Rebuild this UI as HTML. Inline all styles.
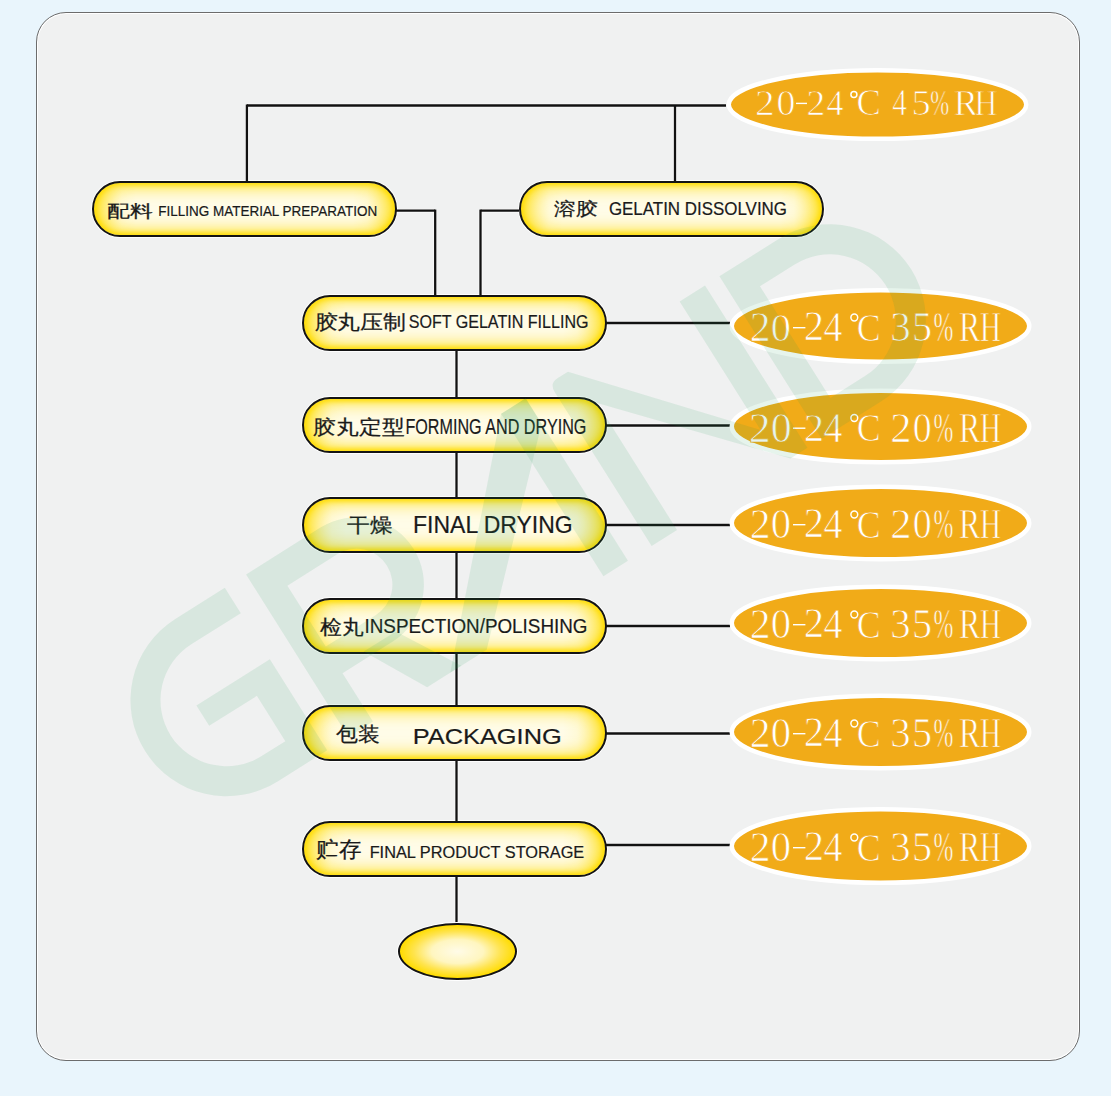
<!DOCTYPE html>
<html><head><meta charset="utf-8"><style>
html,body{margin:0;padding:0}
body{width:1111px;height:1096px;background:#e9f5fc;position:relative;overflow:hidden;font-family:"Liberation Sans",sans-serif}
.panel{position:absolute;left:35.6px;top:11.9px;width:1044.3px;height:1049px;box-sizing:border-box;border:1.7px solid #6c6c6c;border-radius:30px;background:#f0f1f1;box-shadow:inset 0 0 0 1px #fff}
svg{position:absolute;left:0;top:0}
.halo{position:absolute;box-sizing:border-box;border-radius:31px;background:#fff;opacity:.9}
.cap{position:absolute;box-sizing:border-box;border:2.5px solid #141414;border-radius:30px;background:linear-gradient(to right,rgba(255,220,0,.5) 0,rgba(255,236,120,.15) 28px,rgba(255,255,255,0) 42px,rgba(255,255,255,0) calc(100% - 42px),rgba(255,236,120,.15) calc(100% - 28px),rgba(255,220,0,.5) 100%),#fffce8;box-shadow:inset 0 0 5px 2px #ffdc00, inset 0 0 16px 5px rgba(255,220,0,.75)}
.bot{position:absolute;left:398.3px;top:922.5px;width:119px;height:57.3px;box-sizing:border-box;border:2.5px solid #141414;border-radius:50%;background:radial-gradient(ellipse closest-side at 50% 50%,#fffbe8 0%,#fff6c0 45%,#ffe450 75%,#ffdc00 100%);box-shadow:0 0 0 1px #fff}
.en{font-family:"Liberation Sans",sans-serif;fill:#1a1a1a;stroke:#1a1a1a;stroke-width:0.2px}
.cjk{font-family:"Liberation Sans",sans-serif;fill:#1a1a1a;stroke:#1a1a1a;stroke-width:0.25px}
.el{font-family:"Liberation Serif",serif;fill:#fff;stroke:#f1ab18;stroke-width:0.75px}
</style></head><body>
<div class="panel"></div>
<div class="halo" style="left:90.8px;top:179.8px;width:307.4px;height:58.4px"></div><div class="halo" style="left:517.8px;top:179.8px;width:307.4px;height:58.4px"></div><div class="halo" style="left:300.8px;top:293.8px;width:307.4px;height:58.4px"></div><div class="halo" style="left:300.8px;top:395.8px;width:307.4px;height:58.4px"></div><div class="halo" style="left:300.8px;top:495.8px;width:307.4px;height:58.4px"></div><div class="halo" style="left:300.8px;top:596.8px;width:307.4px;height:58.4px"></div><div class="halo" style="left:300.8px;top:703.8px;width:307.4px;height:58.4px"></div><div class="halo" style="left:300.8px;top:819.8px;width:307.4px;height:58.4px"></div>
<svg width="1111" height="1096" viewBox="0 0 1111 1096">
<g stroke="#fff" stroke-width="4" opacity="0.6"><line x1="246.9" y1="105.5" x2="726" y2="105.5"/>
<line x1="246.9" y1="104.5" x2="246.9" y2="182"/>
<line x1="675" y1="105.5" x2="675" y2="182"/>
<line x1="396" y1="210.7" x2="435.2" y2="210.7"/>
<line x1="435.2" y1="209.6" x2="435.2" y2="296"/>
<line x1="519" y1="210.7" x2="480.5" y2="210.7"/>
<line x1="480.5" y1="209.6" x2="480.5" y2="296"/>
<line x1="456.5" y1="351" x2="456.5" y2="398"/>
<line x1="456.5" y1="453" x2="456.5" y2="498"/>
<line x1="456.5" y1="553" x2="456.5" y2="599"/>
<line x1="456.5" y1="654" x2="456.5" y2="706"/>
<line x1="456.5" y1="761" x2="456.5" y2="822"/>
<line x1="456.5" y1="877" x2="456.5" y2="923"/>
<line x1="606" y1="323" x2="730" y2="323"/>
<line x1="606" y1="425.5" x2="730" y2="425.5"/>
<line x1="606" y1="525" x2="730" y2="525"/>
<line x1="606" y1="626" x2="730" y2="626"/>
<line x1="606" y1="733.5" x2="730" y2="733.5"/>
<line x1="606" y1="845" x2="730" y2="845"/></g>
<g stroke="#111" stroke-width="2.3"><line x1="246.9" y1="105.5" x2="726" y2="105.5"/>
<line x1="246.9" y1="104.5" x2="246.9" y2="182"/>
<line x1="675" y1="105.5" x2="675" y2="182"/>
<line x1="396" y1="210.7" x2="435.2" y2="210.7"/>
<line x1="435.2" y1="209.6" x2="435.2" y2="296"/>
<line x1="519" y1="210.7" x2="480.5" y2="210.7"/>
<line x1="480.5" y1="209.6" x2="480.5" y2="296"/>
<line x1="456.5" y1="351" x2="456.5" y2="398"/>
<line x1="456.5" y1="453" x2="456.5" y2="498"/>
<line x1="456.5" y1="553" x2="456.5" y2="599"/>
<line x1="456.5" y1="654" x2="456.5" y2="706"/>
<line x1="456.5" y1="761" x2="456.5" y2="822"/>
<line x1="456.5" y1="877" x2="456.5" y2="923"/>
<line x1="606" y1="323" x2="730" y2="323"/>
<line x1="606" y1="425.5" x2="730" y2="425.5"/>
<line x1="606" y1="525" x2="730" y2="525"/>
<line x1="606" y1="626" x2="730" y2="626"/>
<line x1="606" y1="733.5" x2="730" y2="733.5"/>
<line x1="606" y1="845" x2="730" y2="845"/></g>
</svg>
<div class="cap" style="left:92px;top:181px;width:305px;height:56px"></div><div class="cap" style="left:519px;top:181px;width:305px;height:56px"></div><div class="cap" style="left:302px;top:295px;width:305px;height:56px"></div><div class="cap" style="left:302px;top:397px;width:305px;height:56px"></div><div class="cap" style="left:302px;top:497px;width:305px;height:56px"></div><div class="cap" style="left:302px;top:598px;width:305px;height:56px"></div><div class="cap" style="left:302px;top:705px;width:305px;height:56px"></div><div class="cap" style="left:302px;top:821px;width:305px;height:56px"></div>
<div class="bot"></div>
<svg width="1111" height="1096" viewBox="0 0 1111 1096">
<ellipse cx="877.5" cy="104.6" rx="148.75" ry="34.25" fill="#f1ab18" stroke="#fff" stroke-width="4.5"/><text x="755.04" y="115.00" font-size="35.75" textLength="19.65" lengthAdjust="spacingAndGlyphs" class="el">2</text>
<text x="776.40" y="115.00" font-size="35.75" textLength="18.93" lengthAdjust="spacingAndGlyphs" class="el">0</text>
<rect x="796.0" y="102.7" width="11.0" height="1.4" fill="#fff"/>
<text x="806.40" y="115.00" font-size="36.58" textLength="18.80" lengthAdjust="spacingAndGlyphs" class="el">2</text>
<text x="826.48" y="115.00" font-size="35.95" textLength="17.02" lengthAdjust="spacingAndGlyphs" class="el">4</text>
<circle cx="853.9" cy="94.4" r="3.0" fill="none" stroke="#fff" stroke-width="1.5"/>
<text x="856.40" y="115.00" font-size="37.10" textLength="24.35" lengthAdjust="spacingAndGlyphs" class="el">C</text>
<text x="892.20" y="115.00" font-size="36.98" textLength="14.60" lengthAdjust="spacingAndGlyphs" class="el">4</text>
<text x="911.60" y="115.00" font-size="35.75" textLength="19.18" lengthAdjust="spacingAndGlyphs" class="el">5</text>
<text x="930.20" y="115.00" font-size="36.43" textLength="18.88" lengthAdjust="spacingAndGlyphs" class="el">%</text>
<text x="953.80" y="115.00" font-size="35.75" textLength="24.23" lengthAdjust="spacingAndGlyphs" class="el">R</text>
<text x="974.60" y="115.00" font-size="35.75" textLength="22.73" lengthAdjust="spacingAndGlyphs" class="el">H</text><ellipse cx="880.5" cy="326" rx="148.75" ry="35.75" fill="#f1ab18" stroke="#fff" stroke-width="4.5"/><text x="749.68" y="340.64" font-size="42.10" textLength="20.84" lengthAdjust="spacingAndGlyphs" class="el">2</text>
<text x="770.68" y="340.64" font-size="40.68" textLength="20.19" lengthAdjust="spacingAndGlyphs" class="el">0</text>
<rect x="793.0" y="327.0" width="12.4" height="1.4" fill="#fff"/>
<text x="803.64" y="340.48" font-size="42.02" textLength="20.34" lengthAdjust="spacingAndGlyphs" class="el">2</text>
<text x="823.48" y="340.64" font-size="41.86" textLength="18.89" lengthAdjust="spacingAndGlyphs" class="el">4</text>
<circle cx="854.3" cy="317.5" r="3.4" fill="none" stroke="#fff" stroke-width="1.5"/>
<text x="856.82" y="340.64" font-size="40.29" textLength="23.86" lengthAdjust="spacingAndGlyphs" class="el">C</text>
<text x="890.32" y="340.64" font-size="41.86" textLength="20.48" lengthAdjust="spacingAndGlyphs" class="el">3</text>
<text x="912.06" y="340.64" font-size="42.04" textLength="20.04" lengthAdjust="spacingAndGlyphs" class="el">5</text>
<text x="933.48" y="340.64" font-size="41.20" textLength="19.85" lengthAdjust="spacingAndGlyphs" class="el">%</text>
<text x="958.94" y="340.64" font-size="41.86" textLength="21.13" lengthAdjust="spacingAndGlyphs" class="el">R</text>
<text x="980.12" y="340.64" font-size="41.86" textLength="20.90" lengthAdjust="spacingAndGlyphs" class="el">H</text><ellipse cx="880.5" cy="426.5" rx="148.75" ry="35.75" fill="#f1ab18" stroke="#fff" stroke-width="4.5"/><text x="748.88" y="441.54" font-size="42.10" textLength="21.95" lengthAdjust="spacingAndGlyphs" class="el">2</text>
<text x="770.68" y="441.54" font-size="42.17" textLength="20.98" lengthAdjust="spacingAndGlyphs" class="el">0</text>
<rect x="793.0" y="427.5" width="12.4" height="1.4" fill="#fff"/>
<text x="803.64" y="440.98" font-size="41.01" textLength="20.34" lengthAdjust="spacingAndGlyphs" class="el">2</text>
<text x="823.48" y="441.54" font-size="41.98" textLength="18.89" lengthAdjust="spacingAndGlyphs" class="el">4</text>
<circle cx="854.3" cy="418.0" r="3.4" fill="none" stroke="#fff" stroke-width="1.5"/>
<text x="856.82" y="441.14" font-size="40.17" textLength="23.86" lengthAdjust="spacingAndGlyphs" class="el">C</text>
<text x="890.32" y="441.54" font-size="41.86" textLength="21.33" lengthAdjust="spacingAndGlyphs" class="el">2</text>
<text x="912.86" y="441.54" font-size="41.86" textLength="18.93" lengthAdjust="spacingAndGlyphs" class="el">0</text>
<text x="933.48" y="441.54" font-size="41.20" textLength="19.85" lengthAdjust="spacingAndGlyphs" class="el">%</text>
<text x="958.94" y="441.54" font-size="41.86" textLength="21.13" lengthAdjust="spacingAndGlyphs" class="el">R</text>
<text x="980.12" y="441.54" font-size="41.86" textLength="20.90" lengthAdjust="spacingAndGlyphs" class="el">H</text><ellipse cx="880.5" cy="523" rx="148.75" ry="36.25" fill="#f1ab18" stroke="#fff" stroke-width="4.5"/><text x="749.68" y="537.64" font-size="41.86" textLength="20.84" lengthAdjust="spacingAndGlyphs" class="el">2</text>
<text x="770.68" y="537.64" font-size="41.86" textLength="20.27" lengthAdjust="spacingAndGlyphs" class="el">0</text>
<rect x="793.0" y="524.0" width="12.4" height="1.4" fill="#fff"/>
<text x="803.64" y="537.48" font-size="42.02" textLength="20.34" lengthAdjust="spacingAndGlyphs" class="el">2</text>
<text x="823.48" y="537.64" font-size="41.86" textLength="18.89" lengthAdjust="spacingAndGlyphs" class="el">4</text>
<circle cx="854.3" cy="514.5" r="3.4" fill="none" stroke="#fff" stroke-width="1.5"/>
<text x="856.82" y="537.64" font-size="40.29" textLength="23.86" lengthAdjust="spacingAndGlyphs" class="el">C</text>
<text x="890.32" y="537.64" font-size="41.86" textLength="21.33" lengthAdjust="spacingAndGlyphs" class="el">2</text>
<text x="912.86" y="537.64" font-size="41.86" textLength="18.93" lengthAdjust="spacingAndGlyphs" class="el">0</text>
<text x="933.48" y="537.64" font-size="41.20" textLength="19.85" lengthAdjust="spacingAndGlyphs" class="el">%</text>
<text x="958.94" y="537.64" font-size="41.86" textLength="21.13" lengthAdjust="spacingAndGlyphs" class="el">R</text>
<text x="980.12" y="537.64" font-size="41.86" textLength="20.90" lengthAdjust="spacingAndGlyphs" class="el">H</text><ellipse cx="880.5" cy="623" rx="148.75" ry="36.25" fill="#f1ab18" stroke="#fff" stroke-width="4.5"/><text x="749.68" y="637.64" font-size="41.86" textLength="20.84" lengthAdjust="spacingAndGlyphs" class="el">2</text>
<text x="770.68" y="637.64" font-size="41.86" textLength="20.27" lengthAdjust="spacingAndGlyphs" class="el">0</text>
<rect x="793.0" y="624.0" width="12.4" height="1.4" fill="#fff"/>
<text x="803.64" y="637.48" font-size="42.02" textLength="20.34" lengthAdjust="spacingAndGlyphs" class="el">2</text>
<text x="823.48" y="637.64" font-size="41.86" textLength="18.89" lengthAdjust="spacingAndGlyphs" class="el">4</text>
<circle cx="854.3" cy="614.5" r="3.4" fill="none" stroke="#fff" stroke-width="1.5"/>
<text x="856.82" y="637.64" font-size="40.29" textLength="23.86" lengthAdjust="spacingAndGlyphs" class="el">C</text>
<text x="890.32" y="637.64" font-size="41.86" textLength="20.40" lengthAdjust="spacingAndGlyphs" class="el">3</text>
<text x="912.06" y="637.64" font-size="41.86" textLength="20.04" lengthAdjust="spacingAndGlyphs" class="el">5</text>
<text x="933.48" y="637.64" font-size="41.20" textLength="19.85" lengthAdjust="spacingAndGlyphs" class="el">%</text>
<text x="958.94" y="637.64" font-size="41.86" textLength="21.13" lengthAdjust="spacingAndGlyphs" class="el">R</text>
<text x="980.12" y="637.64" font-size="41.86" textLength="20.90" lengthAdjust="spacingAndGlyphs" class="el">H</text><ellipse cx="880.5" cy="732" rx="148.75" ry="36.25" fill="#f1ab18" stroke="#fff" stroke-width="4.5"/><text x="749.68" y="746.64" font-size="41.86" textLength="20.84" lengthAdjust="spacingAndGlyphs" class="el">2</text>
<text x="770.68" y="746.64" font-size="41.86" textLength="20.27" lengthAdjust="spacingAndGlyphs" class="el">0</text>
<rect x="793.0" y="733.0" width="12.4" height="1.4" fill="#fff"/>
<text x="803.64" y="746.48" font-size="42.02" textLength="20.34" lengthAdjust="spacingAndGlyphs" class="el">2</text>
<text x="823.48" y="746.64" font-size="41.86" textLength="18.89" lengthAdjust="spacingAndGlyphs" class="el">4</text>
<circle cx="854.3" cy="723.5" r="3.4" fill="none" stroke="#fff" stroke-width="1.5"/>
<text x="856.82" y="746.64" font-size="40.29" textLength="23.86" lengthAdjust="spacingAndGlyphs" class="el">C</text>
<text x="890.32" y="746.64" font-size="41.86" textLength="20.40" lengthAdjust="spacingAndGlyphs" class="el">3</text>
<text x="912.06" y="746.64" font-size="41.86" textLength="20.04" lengthAdjust="spacingAndGlyphs" class="el">5</text>
<text x="933.48" y="746.64" font-size="41.20" textLength="19.85" lengthAdjust="spacingAndGlyphs" class="el">%</text>
<text x="958.94" y="746.64" font-size="41.86" textLength="21.13" lengthAdjust="spacingAndGlyphs" class="el">R</text>
<text x="980.12" y="746.64" font-size="41.86" textLength="20.90" lengthAdjust="spacingAndGlyphs" class="el">H</text><ellipse cx="880.5" cy="846" rx="148.75" ry="36.75" fill="#f1ab18" stroke="#fff" stroke-width="4.5"/><text x="749.68" y="860.64" font-size="41.86" textLength="20.84" lengthAdjust="spacingAndGlyphs" class="el">2</text>
<text x="770.68" y="860.64" font-size="41.86" textLength="20.27" lengthAdjust="spacingAndGlyphs" class="el">0</text>
<rect x="793.0" y="847.0" width="12.4" height="1.4" fill="#fff"/>
<text x="803.64" y="860.48" font-size="42.02" textLength="20.34" lengthAdjust="spacingAndGlyphs" class="el">2</text>
<text x="823.48" y="860.64" font-size="41.86" textLength="18.89" lengthAdjust="spacingAndGlyphs" class="el">4</text>
<circle cx="854.3" cy="837.5" r="3.4" fill="none" stroke="#fff" stroke-width="1.5"/>
<text x="856.82" y="860.64" font-size="40.29" textLength="23.86" lengthAdjust="spacingAndGlyphs" class="el">C</text>
<text x="890.32" y="860.64" font-size="41.86" textLength="20.40" lengthAdjust="spacingAndGlyphs" class="el">3</text>
<text x="912.06" y="860.64" font-size="41.86" textLength="20.04" lengthAdjust="spacingAndGlyphs" class="el">5</text>
<text x="933.48" y="860.64" font-size="41.20" textLength="19.85" lengthAdjust="spacingAndGlyphs" class="el">%</text>
<text x="958.94" y="860.64" font-size="41.86" textLength="21.13" lengthAdjust="spacingAndGlyphs" class="el">R</text>
<text x="980.12" y="860.64" font-size="41.86" textLength="20.90" lengthAdjust="spacingAndGlyphs" class="el">H</text>
<text x="158.34" y="215.88" font-size="13.97" textLength="218.86" lengthAdjust="spacingAndGlyphs" class="en">FILLING MATERIAL PREPARATION</text><text x="107.20" y="217.26" font-size="17.02" textLength="45.74" lengthAdjust="spacingAndGlyphs" class="cjk">配料</text><text x="608.91" y="215.38" font-size="18.17" textLength="178.10" lengthAdjust="spacingAndGlyphs" class="en">GELATIN DISSOLVING</text><text x="554.08" y="215.24" font-size="17.83" textLength="43.81" lengthAdjust="spacingAndGlyphs" class="cjk">溶胶</text><text x="408.68" y="327.88" font-size="18.92" textLength="179.83" lengthAdjust="spacingAndGlyphs" class="en">SOFT GELATIN FILLING</text><text x="314.58" y="328.51" font-size="20.25" textLength="91.67" lengthAdjust="spacingAndGlyphs" class="cjk">胶丸压制</text><text x="405.39" y="433.88" font-size="22.08" textLength="181.00" lengthAdjust="spacingAndGlyphs" class="en">FORMING AND DRYING</text><text x="313.26" y="433.51" font-size="20.25" textLength="91.10" lengthAdjust="spacingAndGlyphs" class="cjk">胶丸定型</text><text x="413.04" y="532.88" font-size="24.57" textLength="159.64" lengthAdjust="spacingAndGlyphs" class="en">FINAL DRYING</text><text x="347.44" y="532.13" font-size="20.48" textLength="45.31" lengthAdjust="spacingAndGlyphs" class="cjk">干燥</text><text x="364.50" y="632.88" font-size="20.55" textLength="223.01" lengthAdjust="spacingAndGlyphs" class="en">INSPECTION/POLISHING</text><text x="320.06" y="634.12" font-size="19.93" textLength="43.53" lengthAdjust="spacingAndGlyphs" class="cjk">检丸</text><text x="412.73" y="743.50" font-size="22.78" textLength="149.01" lengthAdjust="spacingAndGlyphs" class="en">PACKAGING</text><text x="336.00" y="741.13" font-size="19.62" textLength="43.78" lengthAdjust="spacingAndGlyphs" class="cjk">包装</text><text x="369.67" y="857.88" font-size="16.46" textLength="214.61" lengthAdjust="spacingAndGlyphs" class="en">FINAL PRODUCT STORAGE</text><text x="316.02" y="857.48" font-size="21.76" textLength="45.16" lengthAdjust="spacingAndGlyphs" class="cjk">贮存</text>
<g transform="translate(127.9,703.2) rotate(-32.2) translate(-11,-46)" fill="#1e9752" fill-opacity="0.11" fill-rule="evenodd"><path d="M154.5,0 L96,0 A96,96 0 0 0 96,192 L154.5,192 L154.5,84.5 L67.7,84.5 L67.7,108.5 L124,108.5 L124,162 L96,162 A66,66 0 0 1 96,30 L154.5,30 Z"/><path d="M179.6,0 L267.5,0 A67.5,67.5 0 0 1 267.5,135.0 L208.6,135.0 L208.6,192 L179.6,192 Z M208.6,31.5 L267.5,31.5 A36,36 0 0 1 267.5,103.5 L208.6,103.5 Z"/><path d="M238,128 L276,128 L313,192 L272.7,192 Z"/><path d="M481,0 L510,0 L510,192 L481,192 Z"/><path d="M481,0 L510,0 L510,30 L343,192 L300,192 Z"/><path d="M548,0 L560,0 L692,152 L692,0 L722,0 L722,192 L702,192 L568,42 L568,192 L538,192 L538,10 Q538,0 548,0 Z"/><path d="M739,0 L809,0 A96,96 0 0 1 809,192 L739,192 Z M768,30 L809,30 A66,66 0 0 1 809,162 L768,162 Z"/></g>
</svg>
</body></html>
